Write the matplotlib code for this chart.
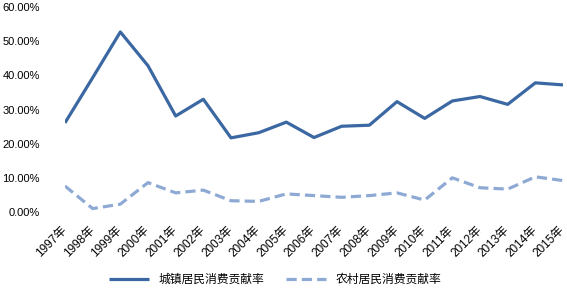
import matplotlib.pyplot as plt
from matplotlib.ticker import FuncFormatter

plt.rcParams['font.family'] = ['Liberation Sans', 'Noto Sans CJK SC', 'DejaVu Sans']

years = ['1997年', '1998年', '1999年', '2000年', '2001年', '2002年', '2003年',
         '2004年', '2005年', '2006年', '2007年', '2008年', '2009年', '2010年',
         '2011年', '2012年', '2013年', '2014年', '2015年']
# contribution rates, %
urban = [26.1, 39.3, 52.7, 42.8, 28.1, 33.0, 21.7, 23.2, 26.3, 21.8, 25.1,
         25.4, 32.3, 27.4, 32.5, 33.8, 31.5, 37.8, 37.2]
rural = [7.6, 1.0, 2.3, 8.6, 5.6, 6.4, 3.3, 3.1, 5.3, 4.8, 4.3, 4.8, 5.6,
         3.5, 10.0, 7.1, 6.7, 10.3, 9.2]
names = ['城镇居民消费贡献率', '农村居民消费贡献率']

fig = plt.figure(figsize=(5.67, 2.88), dpi=100)
ax = fig.add_axes([65 / 567, 76 / 288, 498 / 567, 205 / 288])

x = range(len(years))
ax.plot(x, urban, color='#3b68a2', lw=2.3, label=names[0], solid_capstyle='butt')
ax.plot(x, rural, color='#8eaad4', lw=2.3, dashes=(3.2, 1.6), label=names[1])

ax.set_xlim(0, len(years) - 1)
ax.set_ylim(0, 60)
ax.set_yticks(range(0, 61, 10))
ax.yaxis.set_major_formatter(FuncFormatter(lambda v, p: '%.2f%%' % v))
ax.set_xticks(list(x))
ax.set_xticklabels(years, rotation=45, ha='right', va='center', rotation_mode='anchor')
ax.tick_params(axis='y', length=0, pad=18, labelsize=8)
ax.tick_params(axis='x', length=0, pad=12, labelsize=8.5)
for s in ax.spines.values():
    s.set_visible(False)

fig.legend(loc='lower center', bbox_to_anchor=(0.485, -0.03), ncol=2, frameon=False,
           handlelength=3.4, columnspacing=1.8,
           prop={'family': ['Noto Sans CJK SC'], 'size': 8.5})

fig.savefig('out.png', dpi=100)
